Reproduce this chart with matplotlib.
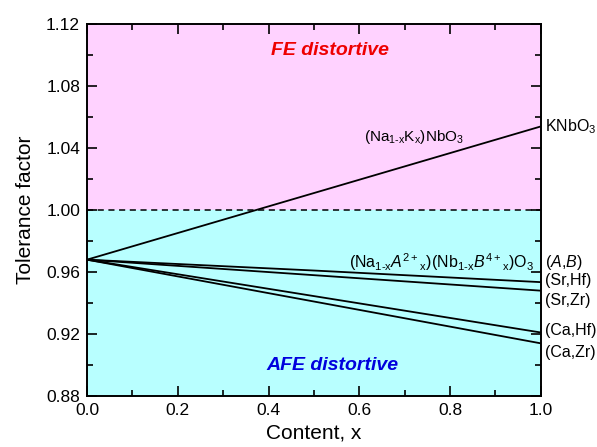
import matplotlib.pyplot as plt
from matplotlib.ticker import MultipleLocator

plt.rcParams['font.family'] = ['Liberation Sans', 'DejaVu Sans']
plt.rcParams['mathtext.fontset'] = 'custom'
plt.rcParams['mathtext.rm'] = 'Liberation Sans'
plt.rcParams['mathtext.it'] = 'Liberation Sans:italic'
plt.rcParams['mathtext.bf'] = 'Liberation Sans:bold'

# content x and tolerance factor
content = [0.0, 0.5, 1.0]
t_knn = [0.968, 1.011, 1.054]
t_sr_hf = [0.968, 0.961, 0.9535]
t_sr_zr = [0.968, 0.958, 0.948]
t_ca_hf = [0.968, 0.9445, 0.921]
t_ca_zr = [0.968, 0.941, 0.914]

end_labels = ["(Sr,Hf)", "(Sr,Zr)", "(Ca,Hf)", "(Ca,Zr)"]
end_label_y = [0.9545, 0.9415, 0.9225, 0.908]

fig = plt.figure(figsize=(5.97, 4.47), dpi=100)
ax = fig.add_axes([0.1457, 0.114, 0.7603, 0.832])

ax.axhspan(1.00, 1.12, color="#ffd2ff", zorder=0)
ax.axhspan(0.88, 1.00, color="#b8ffff", zorder=0)
ax.axhline(1.00, color="black", ls=(0, (4, 3)), lw=1.1)

for t in [t_knn, t_sr_hf, t_sr_zr, t_ca_hf, t_ca_zr]:
    ax.plot(content, t, color="black", lw=1.3)

ax.set_xlim(0, 1.0)
ax.set_ylim(0.88, 1.12)
ax.xaxis.set_major_locator(MultipleLocator(0.2))
ax.xaxis.set_minor_locator(MultipleLocator(0.1))
ax.yaxis.set_major_locator(MultipleLocator(0.04))
ax.yaxis.set_minor_locator(MultipleLocator(0.02))
ax.xaxis.set_major_formatter(lambda v, p: "%.1f" % v)
ax.yaxis.set_major_formatter(lambda v, p: "%.2f" % v)
ax.tick_params(which="both", direction="in", top=True, right=True, labelsize=12.5, width=1.2)
ax.tick_params(which="major", length=7, pad=5)
ax.tick_params(which="minor", length=4)
for s in ax.spines.values():
    s.set_linewidth(1.4)

ax.set_xlabel("Content, x", fontsize=15, labelpad=4)
ax.set_ylabel("Tolerance factor", fontsize=15, labelpad=8)

ax.text(0.535, 1.103, "FE distortive", color="#ee0000", fontsize=14, fontweight="bold",
        fontstyle="italic", ha="center", va="center")
ax.text(0.54, 0.900, "AFE distortive", color="#0000dd", fontsize=14, fontweight="bold",
        fontstyle="italic", ha="center", va="center")

ax.text(0.72, 1.047, r"(Na$_{\mathrm{1\text{-}x}}$K$_{\mathrm{x}}$)NbO$_{\mathrm{3}}$", fontsize=11,
        ha="center", va="center")
ax.text(0.578, 0.9665,
        r"(Na$_{\mathrm{1\text{-}x}}$$\mathit{A}^{\mathrm{2+}}$$_{\mathrm{x}}$)"
        r"(Nb$_{\mathrm{1\text{-}x}}$$\mathit{B}^{\mathrm{4+}}$$_{\mathrm{x}}$)O$_{\mathrm{3}}$",
        fontsize=11.5, ha="left", va="center")

ax.text(1.008, 1.054, r"KNbO$_{\mathrm{3}}$", fontsize=11.5, ha="left", va="center",
        transform=ax.get_yaxis_transform())
ax.text(1.008, 0.9665, r"($\mathit{A}$,$\mathit{B}$)", fontsize=11.5, ha="left", va="center",
        transform=ax.get_yaxis_transform())
for lab, yy in zip(end_labels, end_label_y):
    ax.text(1.008, yy, lab, fontsize=11.5, ha="left", va="center", transform=ax.get_yaxis_transform())

fig.savefig("out.png", dpi=100)
